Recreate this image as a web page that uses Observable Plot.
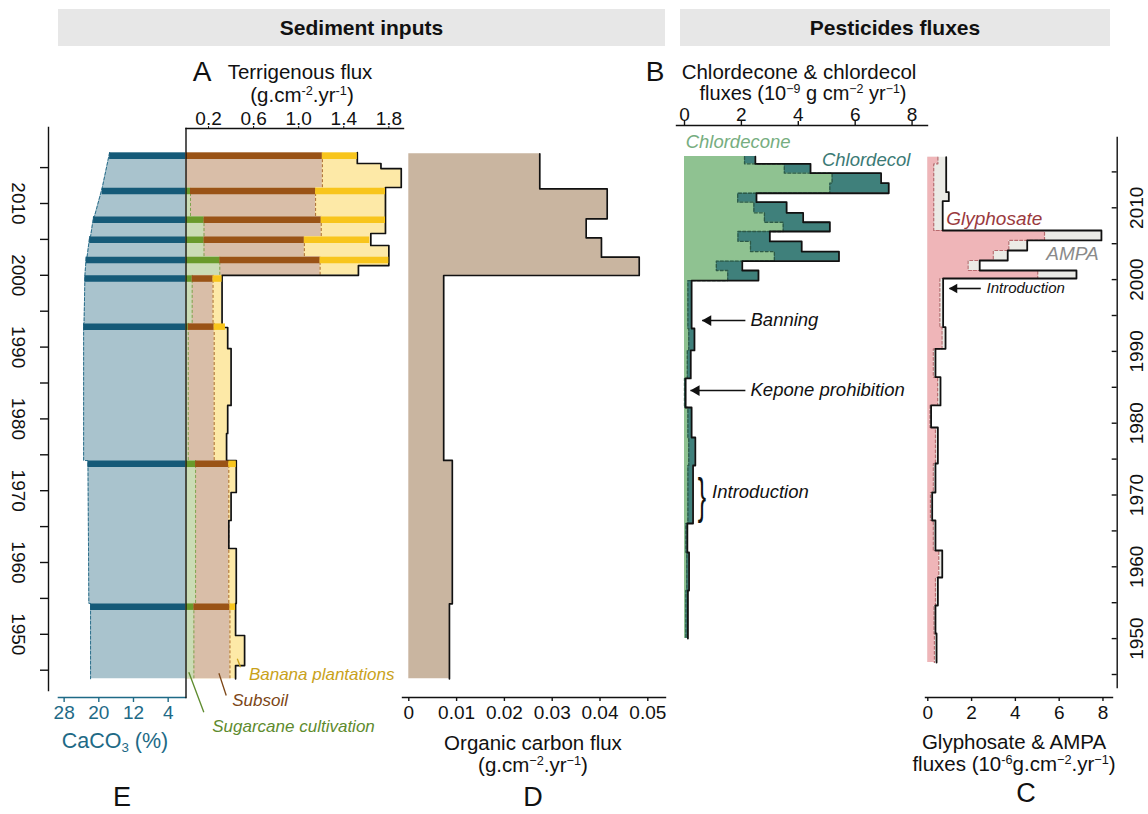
<!DOCTYPE html>
<html><head><meta charset="utf-8">
<script src="https://cdn.jsdelivr.net/npm/d3@7"></script>
<script src="https://cdn.jsdelivr.net/npm/@observablehq/plot@0.6"></script>
<style>
body{margin:0;background:#fff;}
#chart{position:relative;width:1148px;height:814px;overflow:hidden;font-family:"Liberation Sans",Arial,Helvetica,sans-serif;color:#111;}
#chart svg{position:absolute;left:0;top:0;}
.lbl{position:absolute;transform:translate(-50%,-50%);white-space:nowrap;line-height:1;}
.lbl sup{font-size:62%;vertical-align:0.55em;line-height:0;}
.lbl sub{font-size:62%;vertical-align:-0.3em;line-height:0;}
.hdr{position:absolute;background:#e7e7e7;font-weight:bold;font-size:21px;display:flex;align-items:center;justify-content:center;}
</style></head><body><div id="chart"></div>
<script>
// ---------------- DATA ----------------
// Panels A & E: sediment slices used for source apportionment (years of slice top / bottom)
const sampleTop    = [2017.1, 2012.2, 2008.2, 2005.4, 2002.6, 2000.0, 1993.3, 1974.2, 1954.3];
const sampleBottom = [2012.2, 2008.2, 2005.4, 2002.6, 2000.0, 1993.3, 1974.2, 1954.3, 1943.8];
const caco3        = [17.5, 19.2, 21.2, 22.1, 22.9, 23.2, 23.5, 22.5, 21.9];   // % at slice top
const caco3Base    = [19.2, 21.0, 21.9, 22.7, 23.2, 23.4, 23.5, 22.3, 21.9];   // % at slice bottom
const sugarcane    = [0, 0.04, 0.16, 0.16, 0.30, 0.055, 0.02, 0.085, 0.07];    // cumulative flux
const subsoil      = [1.21, 1.15, 1.20, 1.05, 1.19, 0.24, 0.25, 0.38, 0.39];   // cumulative flux
const terrTopTotal = [1.52, 1.77, 1.77, 1.63, 1.80, 0.32, 0.35, 0.446, 0.44];  // total flux at slice top

// Panel A: fine-resolution terrigenous flux (g cm-2 yr-1)
const terrYear = [2017.1, 2015.57, 2014.87, 2012.23, 2005.82, 2004.15, 2001.36, 2000.0, 1992.73, 1989.8, 1981.87, 1977.97, 1974.2, 1969.75, 1965.85, 1961.95, 1954.3, 1949.83, 1945.65, 1943.8];
const terrFlux = [1.52, 1.73, 1.91, 1.77, 1.64, 1.80, 1.53, 0.32, 0.37, 0.40, 0.37, 0.36, 0.446, 0.40, 0.38, 0.446, 0.44, 0.52, 0.44, 0.44];

// Panel D: organic carbon flux
const ocYear = [2016.92, 2012.05, 2007.87, 2005.22, 2002.52, 1999.97, 1974.21, 1954.25, 1943.8];
const ocFlux = [0.0274, 0.0415, 0.0371, 0.0403, 0.0482, 0.0073, 0.0091, 0.0085, 0.0085];

// Panel B: chlordecone and chlordecone + chlordecol (10^-9 g cm-2 yr-1)
const chlYear = [2017.14, 2016.13, 2014.82, 2013.43, 2012.03, 2010.78, 2009.30, 2007.99, 2006.70, 2005.31, 2003.91, 2002.56, 2001.27, 1999.87, 1993.19, 1990.13, 1986.23, 1982.19, 1978.01, 1974.11, 1966.03, 1961.99, 1956.70, 1950.01];
const chlordecone = [2.11, 3.51, 5.19, 5.11, 1.87, 2.44, 2.81, 3.47, 1.88, 2.32, 3.16, 1.12, 1.52, 0.12, 0.15, 0.10, 0.00, 0.12, 0.15, 0.12, 0.05, 0.08, 0.05, 0.05];
const chlTotal    = [2.49, 4.43, 6.91, 7.18, 2.53, 3.59, 4.17, 5.11, 3.00, 4.12, 5.43, 2.03, 2.60, 0.25, 0.35, 0.22, 0.04, 0.25, 0.38, 0.30, 0.10, 0.16, 0.12, 0.12];

// Panel C: glyphosate and glyphosate + AMPA (10^-6 g cm-2 yr-1)
const glyYear = [2017.05, 2016.13, 2012.17, 2010.92, 2006.84, 2005.45, 2004.05, 2002.66, 2001.27, 2000.15, 1993.37, 1990.36, 1986.41, 1982.47, 1979.40, 1974.39, 1970.35, 1966.45, 1962.27, 1958.51, 1954.61, 1950.71, 1946.67];
const glyphosate = [0.46, 0.27, 0.27, 0.27, 5.33, 3.70, 2.99, 1.84, 5.02, 0.55, 0.65, 0.25, 0.45, 0.10, 0.35, 0.25, 0.12, 0.25, 0.50, 0.35, 0.28, 0.30, 0.30];
const glyTotal   = [0.84, 0.84, 0.96, 0.68, 7.93, 4.54, 3.65, 2.37, 6.79, 0.70, 0.81, 0.35, 0.58, 0.15, 0.46, 0.35, 0.20, 0.35, 0.66, 0.46, 0.35, 0.40, 0.40];

// Ticks
const yearTicks  = [1945, 1950, 1955, 1960, 1965, 1970, 1975, 1980, 1985, 1990, 1995, 2000, 2005, 2010, 2015];
const yearLabels = [1950, 1960, 1970, 1980, 1990, 2000, 2010];
const terrTicks = [0.2, 0.6, 1.0, 1.4, 1.8];
const caTicks   = [28, 20, 12, 4];
const ocTicks   = [0, 0.01, 0.02, 0.03, 0.04, 0.05];
const chlTicks  = [0, 2, 4, 6, 8];
const glyTicks  = [0, 2, 4, 6, 8];

// Annotations (in data units of each panel)
const chlNotes = [
  {x: 0.04, year: 2019.14, text: "Chlordecone", color: "#76ad80"},
  {x: 4.83, year: 2016.59, text: "Chlordecol", color: "#3b7a75"},
  {x: 2.32, year: 1994.3, text: "Banning", color: "#111"},
  {x: 2.32, year: 1984.55, text: "Kepone prohibition", color: "#111"},
  {x: 0.97, year: 1970.39, text: "Introduction", color: "#111"}
];
const chlArrows = [{from: 2.14, to: 0.62, year: 1994.3}, {from: 2.14, to: 0.21, year: 1984.55}];
const glyNotes = [
  {x: 0.84, year: 2008.51, text: "Glyphosate", color: "#9a3a3e", size: 19},
  {x: 5.41, year: 2003.64, text: "AMPA", color: "#8a8a8a", size: 19},
  {x: 2.68, year: 1998.76, text: "Introduction", color: "#111", size: 15}
];
const glyArrows = [{from: 2.42, to: 0.99, year: 1998.76}];
const srcLeaders = [
  {x1: 0.455, y1: 1946.59, x2: 0.484, y2: 1945.42, color: "#c9a21a"},
  {x1: 0.292, y1: 1944.58, x2: 0.357, y2: 1941.48, color: "#7c4616"},
  {x1: 0.025, y1: 1944.72, x2: 0.158, y2: 1939.15, color: "#5e8b2e"}
];
const srcLabels = [
  {x: 0.558, year: 1944.36, text: "Banana plantations", color: "#c9a21a"},
  {x: 0.41, year: 1940.78, text: "Subsoil", color: "#7c4616"},
  {x: 0.233, year: 1937.16, text: "Sugarcane cultivation", color: "#5e8b2e"}
];

// ---------------- TABLES ----------------
const samples = sampleTop.map((top, i) => ({top, bottom: sampleBottom[i], ca: caco3[i], sug: sugarcane[i], sub: subsoil[i], tot: terrTopTotal[i]}));
const caProfile = sampleTop.flatMap((t, i) => [{year: t, pct: caco3[i]}, {year: sampleBottom[i], pct: caco3Base[i]}]);
const terr = terrYear.map((year, i) => ({year, flux: terrFlux[i]}));
const oc = ocYear.map((year, i) => ({year, flux: ocFlux[i]}));
const chl = chlYear.map((year, i) => ({year, cd: chlordecone[i], tot: chlTotal[i]}));
const gly = glyYear.map((year, i) => ({year, g: glyphosate[i], tot: glyTotal[i]}));

// ---------------- LAYOUT ----------------
const FONT = '"Liberation Sans", Arial, Helvetica, sans-serif';
const W = 1148, H = 814, PXY = 7.18;
const yLeft  = {domain: [1940, 2020], range: [203 + 70 * PXY, 203 - 10 * PXY], axis: null};
const yRight = {domain: [1940, 2020], range: [207.3 + 70 * PXY, 207.3 - 10 * PXY], axis: null};
const chart = document.getElementById("chart");

function panel({top, right, bottom, left, x, y, marks}) {
  const svg = Plot.plot({
    width: W, height: H,
    marginTop: top, marginRight: W - right, marginBottom: H - bottom, marginLeft: left,
    x, y, marks,
    style: {background: "transparent", overflow: "visible", fontFamily: FONT, fontSize: "19px", color: "#111"}
  });
  chart.append(svg);
}
function label(html, x, y, size, extra = "") {
  const d = document.createElement("div");
  d.className = "lbl";
  d.style.cssText = `left:${x}px;top:${y}px;font-size:${size}px;${extra}`;
  d.innerHTML = html;
  chart.append(d);
}
const band = {strokeWidth: 6.5, dy: 3.25};
const textItalic = {fontStyle: "italic", textAnchor: "start", lineAnchor: "middle"};

// Panel E: CaCO3
panel({top: 128, right: 185, bottom: 697, left: 58,
  x: {domain: [0, 29.3], range: [185, 58]}, y: yLeft, marks: [
  Plot.areaX(caProfile, {y: "year", x1: 0, x2: "pct", fill: "#a9c3cd", curve: "linear"}),
  Plot.lineX(caProfile, {y: "year", x: "pct", stroke: "#2b6f8c", strokeWidth: 1, strokeDasharray: "3,2"}),
  Plot.ruleY(samples, {y: "top", x1: 0, x2: "ca", stroke: "#155a78", ...band}),
  Plot.axisX({anchor: "bottom", ticks: caTicks, tickSize: 5, tickPadding: 3, color: "#1e6a86", label: null, strokeWidth: 1.4}),
  Plot.frame({anchor: "bottom", stroke: "#1e6a86", strokeWidth: 1.6})
]});

// Left year axis
panel({top: 127, right: 48, bottom: 690, left: 40, y: yLeft, marks: [
  Plot.frame({anchor: "right", stroke: "#111", strokeWidth: 1.4}),
  Plot.tickY(yearTicks, {y: d => d, stroke: "#111", strokeWidth: 1.4}),
  Plot.text(yearLabels, {y: d => d, text: d => String(d), frameAnchor: "right", textAnchor: "middle", lineAnchor: "middle", dx: -30, rotate: 90, fontSize: 19})
]});

// Panel A: terrigenous flux by source
panel({top: 128, right: 403, bottom: 697, left: 185.5,
  x: {domain: [0, 1.93], range: [185.5, 403]}, y: yLeft, marks: [
  Plot.areaX(terr, {y: "year", x1: 0, x2: "flux", fill: "#fde9a7", curve: "step-before"}),
  Plot.rect(samples, {x1: 0, x2: "sub", y1: "bottom", y2: "top", fill: "#d9bea8"}),
  Plot.rect(samples, {x1: 0, x2: "sug", y1: "bottom", y2: "top", fill: "#cbdcb5"}),
  Plot.ruleX(samples, {x: "sub", y1: "bottom", y2: "top", stroke: "#a8682e", strokeWidth: 1, strokeDasharray: "3,2"}),
  Plot.ruleX(samples.filter(d => d.sug > 0), {x: "sug", y1: "bottom", y2: "top", stroke: "#7ea54e", strokeWidth: 1, strokeDasharray: "3,2"}),
  Plot.lineX(terr, {y: "year", x: "flux", curve: "step-before", stroke: "#111", strokeWidth: 1.7}),
  Plot.ruleY(samples, {y: "top", x1: 0, x2: "sug", stroke: "#6a9a2b", ...band}),
  Plot.ruleY(samples, {y: "top", x1: "sug", x2: "sub", stroke: "#9a5316", ...band}),
  Plot.ruleY(samples, {y: "top", x1: "sub", x2: "tot", stroke: "#f8c51c", ...band}),
  Plot.axisX({anchor: "top", ticks: terrTicks, tickFormat: ".1f", tickSize: 3, tickPadding: 1, label: null}),
  Plot.frame({anchor: "top", stroke: "#111", strokeWidth: 1.4}),
  Plot.frame({anchor: "left", stroke: "#111", strokeWidth: 1.4}),
  ...srcLeaders.map(l => Plot.link([l], {x1: "x1", y1: "y1", x2: "x2", y2: "y2", stroke: l.color, strokeWidth: 1.3})),
  ...srcLabels.map(l => Plot.text([l], {x: "x", y: "year", text: "text", fill: l.color, fontSize: 17, ...textItalic}))
]});

// Panel D: organic carbon flux
panel({top: 128, right: 665, bottom: 697, left: 402,
  x: {domain: [0, 0.0537], range: [408.3, 665]}, y: yLeft, marks: [
  Plot.areaX(oc, {y: "year", x1: 0, x2: "flux", fill: "#c9b5a0", curve: "step-before"}),
  Plot.lineX(oc, {y: "year", x: "flux", curve: "step-before", stroke: "#111", strokeWidth: 1.7}),
  Plot.axisX({anchor: "bottom", ticks: ocTicks, tickFormat: d => d === 0 ? "0" : d.toFixed(2), tickSize: 4, tickPadding: 4, label: null, strokeWidth: 1.4}),
  Plot.frame({anchor: "bottom", stroke: "#111", strokeWidth: 1.4})
]});

// Panel B: chlordecone & chlordecol
panel({top: 125, right: 927, bottom: 697, left: 676,
  x: {domain: [0, 8.5], range: [684, 925.8]}, y: yRight, marks: [
  Plot.areaX(chl, {y: "year", x1: 0, x2: "tot", fill: "#3f807b", curve: "step-before"}),
  Plot.areaX(chl, {y: "year", x1: 0, x2: "cd", fill: "#8fc291", curve: "step-before"}),
  Plot.lineX(chl, {y: "year", x: "cd", curve: "step-before", stroke: "#2d5a48", strokeWidth: 1.3, strokeDasharray: "3,2"}),
  Plot.lineX(chl, {y: "year", x: "tot", curve: "step-before", stroke: "#111", strokeWidth: 1.8}),
  Plot.axisX({anchor: "top", ticks: chlTicks, tickSize: 5, tickPadding: 0, label: null, strokeWidth: 1.4}),
  Plot.frame({anchor: "top", stroke: "#111", strokeWidth: 1.4}),
  Plot.link(chlArrows, {x1: "from", x2: "to", y1: "year", y2: "year", stroke: "#111", strokeWidth: 1.6}),
  Plot.dot(chlArrows, {x: "to", y: "year", symbol: "triangle", r: 4, fill: "#111", stroke: null, rotate: -90, dx: 6}),
  ...chlNotes.map(n => Plot.text([n], {x: "x", y: "year", text: "text", fill: n.color, fontSize: 18.5, ...textItalic}))
]});

// Panel C: glyphosate & AMPA
panel({top: 128, right: 1112, bottom: 697, left: 925,
  x: {domain: [0, 8.6], range: [927.3, 1115.6]}, y: yRight, marks: [
  Plot.areaX(gly, {y: "year", x1: 0, x2: "tot", fill: "#ebebe6", curve: "step-before"}),
  Plot.areaX(gly, {y: "year", x1: 0, x2: "g", fill: "#efb5b8", curve: "step-before"}),
  Plot.lineX(gly, {y: "year", x: "g", curve: "step-before", stroke: "#b86a6e", strokeWidth: 1.2, strokeDasharray: "3,2"}),
  Plot.lineX(gly, {y: "year", x: "tot", curve: "step-before", stroke: "#111", strokeWidth: 1.8}),
  Plot.axisX({anchor: "bottom", ticks: glyTicks, tickSize: 4, tickPadding: 4, label: null, strokeWidth: 1.4}),
  Plot.frame({anchor: "bottom", stroke: "#111", strokeWidth: 1.4}),
  Plot.link(glyArrows, {x1: "from", x2: "to", y1: "year", y2: "year", stroke: "#111", strokeWidth: 1.6}),
  Plot.dot(glyArrows, {x: "to", y: "year", symbol: "triangle", r: 3.6, fill: "#111", stroke: null, rotate: -90, dx: 5}),
  ...glyNotes.map(n => Plot.text([n], {x: "x", y: "year", text: "text", fill: n.color, fontSize: n.size, ...textItalic}))
]});

// Right year axis
panel({top: 137, right: 1116.7, bottom: 687, left: 1111.7, y: yRight, marks: [
  Plot.frame({anchor: "right", stroke: "#111", strokeWidth: 1.4}),
  Plot.tickY(yearTicks, {y: d => d, stroke: "#111", strokeWidth: 1.4}),
  Plot.text(yearLabels, {y: d => d, text: d => String(d), frameAnchor: "right", textAnchor: "middle", lineAnchor: "middle", dx: 20, rotate: -90, fontSize: 19})
]});

// ---------------- TEXT ----------------
const h1 = document.createElement("div"); h1.className = "hdr";
h1.style.cssText = "left:58px;top:9px;width:607px;height:37px"; h1.textContent = "Sediment inputs"; chart.append(h1);
const h2 = document.createElement("div"); h2.className = "hdr";
h2.style.cssText = "left:680px;top:9px;width:430px;height:37px"; h2.textContent = "Pesticides fluxes"; chart.append(h2);

label("A", 202, 72, 28);
label("Terrigenous flux", 300, 72, 20.5);
label("(g.cm<sup>-2</sup>.yr<sup>-1</sup>)", 302, 95, 20.5);
label("B", 655, 72, 28);
label("Chlordecone &amp; chlordecol", 799, 72, 20.5);
label("fluxes (10<sup>−9</sup> g cm<sup>−2</sup> yr<sup>−1</sup>)", 803, 93, 20);
label("Organic carbon flux", 533, 743, 20.5);
label("(g.cm<sup>−2</sup>.yr<sup>−1</sup>)", 533, 765, 20.5);
label("D", 533, 797, 27);
label("Glyphosate &amp; AMPA", 1014, 742, 20.5);
label("fluxes (10<sup>-6</sup>g.cm<sup>−2</sup>.yr<sup>−1</sup>)", 1014, 764, 20.5);
label("C", 1026, 793, 27);
label("CaCO<sub>3</sub> (%)", 115, 742, 21.5, "color:#1e6a86;");
label("E", 122, 797, 27);
label("}", 702, 496, 50, "transform:translate(-50%,-50%) scaleX(0.5);font-weight:300;");
</script></body></html>
